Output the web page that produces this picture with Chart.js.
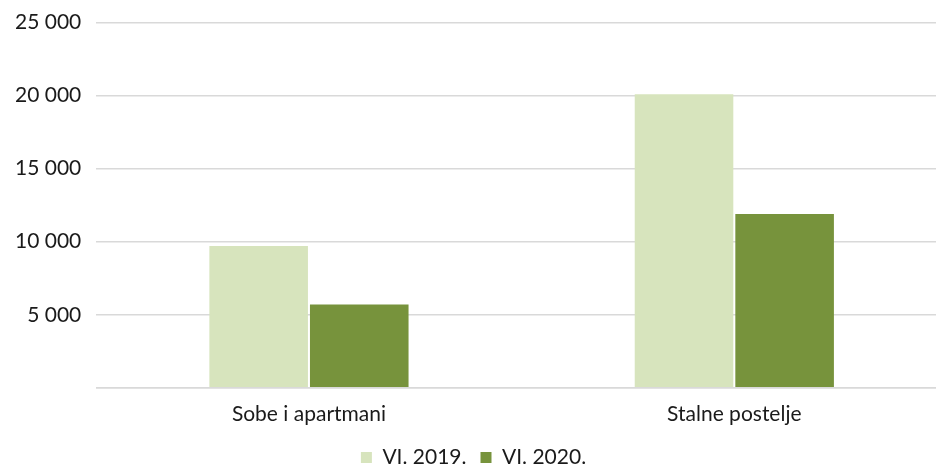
<!DOCTYPE html>
<html>
<head>
<meta charset="utf-8">
<script src="https://cdn.jsdelivr.net/npm/chart.js@4"></script>
<style>
  html, body { margin: 0; padding: 0; background: #fff; overflow: hidden; width: 936px; height: 470px; }
  #wrap { width: 947px; height: 483px; margin-top: -5px; }
</style>
</head>
<body>
<div id="wrap"><canvas id="chart"></canvas></div>
<script>
// Data
const categories = ["Sobe i apartmani", "Stalne postelje"];
const series2019 = [9700, 20100];
const series2020 = [5700, 11900];
const seriesNames = ["VI. 2019.", "VI. 2020."];

const fmt = (v) => String(v).replace(/\B(?=(\d{3})+(?!\d))/g, " ");

Chart.defaults.font.family = "Lato, 'Open Sans', sans-serif";
Chart.defaults.font.size = 21;
Chart.defaults.color = "#1a1a1a";

const ctx = document.getElementById("chart").getContext("2d");
new Chart(ctx, {
  type: "bar",
  data: {
    labels: categories,
    datasets: [
      {
        label: seriesNames[0],
        data: series2019,
        backgroundColor: "#d7e4bd",
        categoryPercentage: 0.473,
        barPercentage: 0.98,
      },
      {
        label: seriesNames[1],
        data: series2020,
        backgroundColor: "#77933c",
        categoryPercentage: 0.473,
        barPercentage: 0.98,
      },
    ],
  },
  options: {
    responsive: true,
    maintainAspectRatio: false,
    animation: false,
    layout: { padding: { top: 0, right: 0, left: 0, bottom: 0 } },
    plugins: {
      legend: {
        position: "bottom",
        labels: { boxWidth: 11, boxHeight: 11, padding: 14 },
      },
      tooltip: { enabled: false },
    },
    scales: {
      x: {
        grid: { display: false },
        border: { color: "#d9d9d9", width: 1.5 },
        ticks: { padding: 6 },
      },
      y: {
        min: 0,
        max: 25000,
        ticks: {
          stepSize: 5000,
          padding: 15,
          callback: (v) => (v === 0 ? "" : fmt(v)),
        },
        grid: { color: "#d9d9d9", lineWidth: 1.5, drawTicks: false },
        border: { display: false },
      },
    },
  },
});
</script>
</body>
</html>
